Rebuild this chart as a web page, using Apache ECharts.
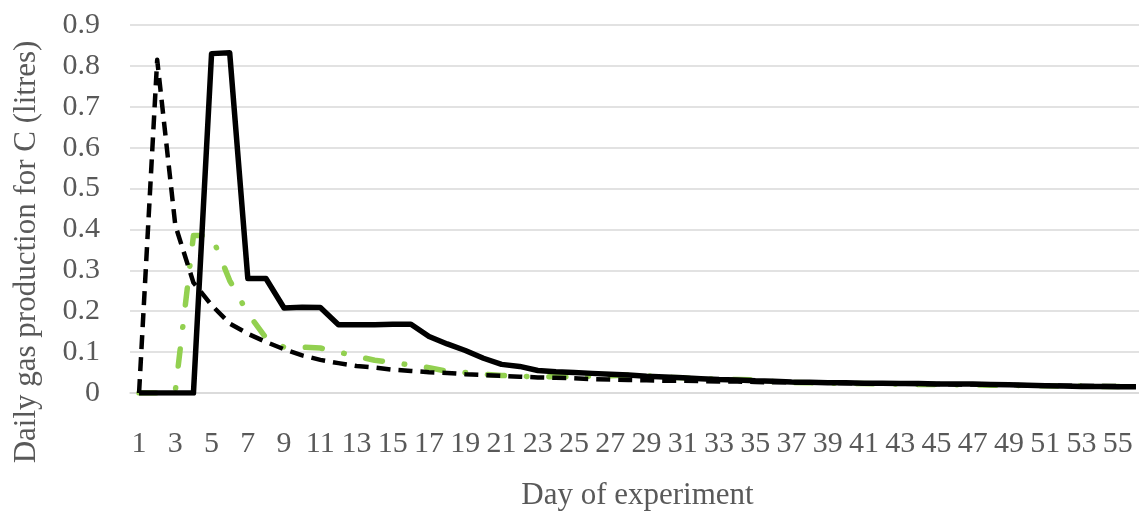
<!DOCTYPE html>
<html>
<head>
<meta charset="utf-8">
<script src="https://cdn.jsdelivr.net/npm/echarts@6/dist/echarts.min.js"></script>
<style>
html,body{margin:0;padding:0;background:#fff;}
#chart{width:1139px;height:516px;}
</style>
</head>
<body>
<div id="chart"></div>
<script>
// Days 1..56
const days = [];
for (let d = 1; d <= 56; d++) days.push(String(d));

const solidSeries = [0,0,0,0,0.83,0.832,0.28,0.28,0.208,0.21,0.209,0.167,0.167,0.167,0.168,0.168,0.138,0.12,0.104,0.085,
  0.07,0.065,0.055,0.052,0.05,0.048,0.046,0.044,0.041,0.039,0.037,0.035,0.033,0.032,0.03,0.029,0.027,0.026,0.025,0.025,
  0.024,0.024,0.023,0.023,0.022,0.022,0.022,0.021,0.02,0.019,0.018,0.017,0.016,0.016,0.015,0.015];

const dashedSeries = [0,0.815,0.41,0.27,0.215,0.17,0.145,0.125,0.107,0.092,0.081,0.073,0.066,0.062,0.057,0.054,0.051,0.049,0.046,0.044,
  0.042,0.04,0.038,0.037,0.036,0.034,0.033,0.032,0.031,0.03,0.03,0.029,0.028,0.028,0.027,0.026,0.026,0.025,0.025,0.024,
  0.024,0.023,0.023,0.022,0.022,0.021,0.021,0.02,0.02,0.019,0.019,0.018,0.018,0.017,0.017,0.016];

const greenSeries = [0,0,0.005,0.385,0.385,0.275,0.195,0.135,0.112,0.112,0.11,0.1,0.09,0.08,0.075,0.068,0.062,0.053,0.05,0.046,
  0.043,0.041,0.04,0.04,0.04,0.041,0.042,0.044,0.042,0.039,0.037,0.035,0.034,0.033,0.032,0.028,0.026,0.025,0.024,0.024,
  0.023,0.022,0.022,0.021,0.021,0.02,0.02,0.019,0.019,0.018,0.018,0.017,0.017,0.016,0.016,0.016];

const yTicks = ['0','0.1','0.2','0.3','0.4','0.5','0.6','0.7','0.8','0.9'];

const textColor = '#595959';
const fontFamily = '"Liberation Serif", "Times New Roman", serif';

const chart = echarts.init(document.getElementById('chart'), null, {renderer: 'canvas'});
chart.setOption({
  animation: false,
  backgroundColor: '#ffffff',
  grid: {left: 130, right: -6, top: 25, bottom: 123, containLabel: false, outerBoundsMode: 'none'},
  xAxis: {
    type: 'category',
    data: days,
    boundaryGap: true,
    name: 'Day of experiment',
    nameLocation: 'middle',
    nameGap: 87,
    nameTextStyle: {color: textColor, fontFamily: fontFamily, fontSize: 31},
    axisLine: {show: true, lineStyle: {color: '#d9d9d9', width: 1.5}},
    axisTick: {show: false},
    axisLabel: {interval: 1, color: textColor, fontFamily: fontFamily, fontSize: 30, margin: 36},
    splitLine: {show: false}
  },
  yAxis: {
    type: 'value',
    min: 0,
    max: 0.9,
    interval: 0.1,
    name: 'Daily gas production for C (litres)',
    nameLocation: 'middle',
    nameGap: 88,
    nameRotate: 90,
    nameTextStyle: {color: textColor, fontFamily: fontFamily, fontSize: 31, padding: [0, 86, 0, 0]},
    axisLine: {show: false},
    axisTick: {show: false},
    axisLabel: {
      color: textColor, fontFamily: fontFamily, fontSize: 30, margin: 30,
      formatter: function (v) { return yTicks[Math.round(v * 10)]; }
    },
    splitLine: {show: true, lineStyle: {color: '#d9d9d9', width: 1.5}}
  },
  series: [
    {
      name: 'green', type: 'line', data: greenSeries, showSymbol: false, symbol: 'none',
      lineStyle: {color: '#92d050', width: 5.5, type: [17, 22, 0.5, 22], cap: 'round', join: 'round'},
      z: 2
    },
    {
      name: 'dashed', type: 'line', data: dashedSeries, showSymbol: false, symbol: 'none',
      lineStyle: {color: '#000000', width: 4.5, type: [14, 8], cap: 'butt', join: 'round'},
      z: 3
    },
    {
      name: 'solid', type: 'line', data: solidSeries, showSymbol: false, symbol: 'none',
      lineStyle: {color: '#000000', width: 5.5, type: 'solid', join: 'round'},
      z: 4
    }
  ]
});
</script>
</body>
</html>
